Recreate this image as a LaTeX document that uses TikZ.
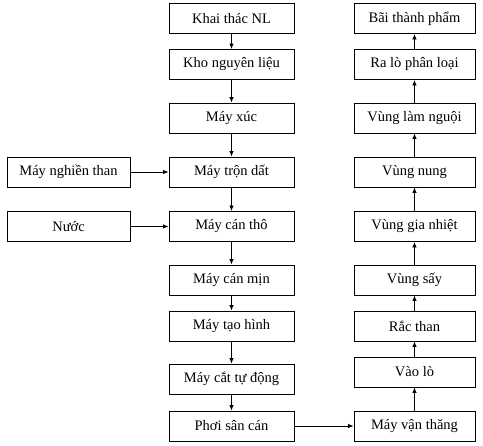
\documentclass[tikz,border=0pt]{standalone}
\usepackage{fontspec}
\setmainfont{Liberation Serif}
\usetikzlibrary{arrows.meta}
\begin{document}
\begin{tikzpicture}[x=1pt,y=-1pt,
  box/.style={draw,line width=0.9pt,rectangle,minimum height=30pt,inner sep=0pt,font=\fontsize{14.5}{17}\selectfont},
  lbox/.style={box,minimum width=125pt},
  rbox/.style={box,minimum width=121pt},
  sbox/.style={box,minimum width=123pt},
  arr/.style={-{Latex[length=5.5pt,width=4.5pt]},line width=0.8pt}]
\useasboundingbox (0,0) rectangle (483,446);
\node[lbox] (a1) at (231.5,18.5) {Khai thác NL};
\node[lbox] (a2) at (231.5,64.5) {Kho nguyên liệu};
\node[lbox] (a3) at (231.5,118) {Máy xúc};
\node[lbox] (a4) at (231.5,172) {Máy trộn dất};
\node[lbox] (a5) at (231.5,226.5) {Máy cán thô};
\node[lbox] (a6) at (231.5,280) {Máy cán mịn};
\node[lbox] (a7) at (231.5,326) {Máy tạo hình};
\node[lbox] (a8) at (231.5,379) {Máy cắt tự động};
\node[lbox] (a9) at (231.5,426) {Phơi sân cán};
\node[sbox] (s1) at (68.5,172) {Máy nghiền than};
\node[sbox] (s2) at (68.5,226.5) {Nước};
\node[rbox] (b1) at (414.5,18.5) {Bãi thành phẩm};
\node[rbox] (b2) at (414.5,64.5) {Ra lò phân loại};
\node[rbox] (b3) at (414.5,118) {Vùng làm nguội};
\node[rbox] (b4) at (414.5,172) {Vùng nung};
\node[rbox] (b5) at (414.5,226.5) {Vùng gia nhiệt};
\node[rbox] (b6) at (414.5,280) {Vùng sấy};
\node[rbox] (b7) at (414.5,326) {Rắc than};
\node[rbox] (b8) at (414.5,372) {Vào lò};
\node[rbox] (b9) at (414.5,426) {Máy vận thăng};
\foreach \i/\j in {1/2,2/3,3/4,4/5,5/6,6/7,7/8,8/9} {
  \draw[arr] (a\i) -- (a\j);
  \draw[arr] (b\j) -- (b\i);
}
\draw[arr] (s1) -- (a4);
\draw[arr] (s2) -- (a5);
\draw[arr] (a9) -- (b9);
\end{tikzpicture}
\end{document}
